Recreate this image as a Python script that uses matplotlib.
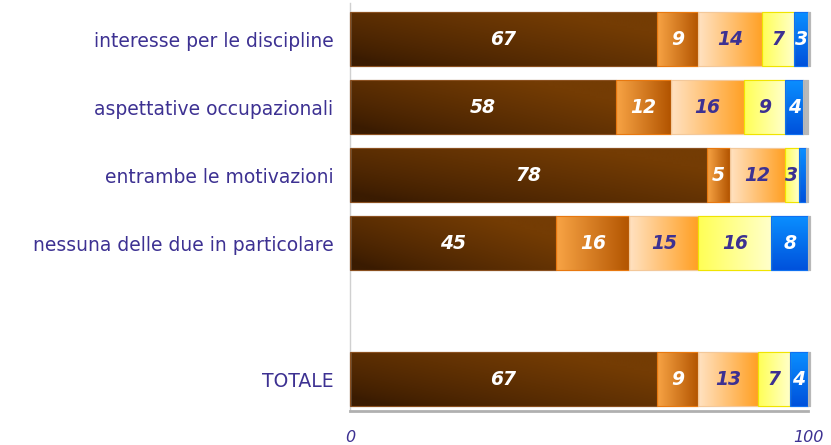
import numpy as np
import matplotlib
matplotlib.use("Agg")
import matplotlib.pyplot as plt
from matplotlib.colors import to_rgb

categories = ["interesse per le discipline", "aspettative occupazionali",
              "entrambe le motivazioni", "nessuna delle due in particolare", "TOTALE"]
positions = [0, 1, 2, 3, 5]
seg1 = [67, 58, 78, 45, 67]
seg2 = [9, 12, 5, 16, 9]
seg3 = [14, 16, 12, 15, 13]
seg4 = [7, 9, 3, 16, 7]
seg5 = [3, 4, 1.5, 8, 4]
seg6 = [0.5, 1.0, 0.5, 0.5, 0.5]
series = [seg1, seg2, seg3, seg4, seg5, seg6]
show_label = [True, True, True, True, True, False]

PURPLE = "#3d3192"
TXT_COLORS = ["white", "white", PURPLE, PURPLE, "white", None]
EDGE = ["#8a5020", "#e8780f", "#f3c89a", "#f0e400", "#1070f0", "#b8b8b8"]

GRADS = [
    ("diag", "#3a1b01", "#743c04"),
    ("h", "#f8a445", "#b25400"),
    ("h", "#ffe2c2", "#ffa024"),
    ("h", "#ffff55", "#ffffcc"),
    ("v", "#0a8eff", "#0052dc"),
    (None, "#b8b8b8", "#b8b8b8"),
]

fig = plt.figure(figsize=(8.31, 4.45), dpi=100)
ax = fig.add_axes([350/831, 1-411/445, 458/831, 408/445])

def gradient_fill(ax, patch, mode, ca, cb):
    bb = patch.get_bbox()
    x0, x1 = bb.x0, bb.x1
    y0, y1 = bb.y0, bb.y1
    n = 128
    a = np.array(to_rgb(ca)); b = np.array(to_rgb(cb))
    xs = np.linspace(0, 1, n)[None, :]
    ys = np.linspace(0, 1, 32)[:, None]
    if mode == "h":
        t = np.repeat(xs, 32, axis=0)
    elif mode == "v":
        t = np.repeat(ys, n, axis=1)
    else:
        t = np.clip(0.75 * xs + 0.6 * (1 - ys) - 0.1, 0, 1)
        t = t ** 0.8
    img = a[None, None, :] * (1 - t[..., None]) + b[None, None, :] * t[..., None]
    im = ax.imshow(img, extent=(x0, x1, max(y0, y1), min(y0, y1)), aspect="auto",
                   zorder=patch.get_zorder() + 0.1, interpolation="bilinear",
                   origin="upper")
    im.set_clip_path(patch)

left = np.zeros(len(categories))
for i, vals in enumerate(series):
    vals = np.array(vals, dtype=float)
    bars = ax.barh(positions, vals, left=left, height=0.79,
                   color=GRADS[i][1], edgecolor=EDGE[i], linewidth=0.8,
                   zorder=2, clip_on=False)
    mode, ca, cb = GRADS[i]
    for p in bars:
        if mode is not None:
            gradient_fill(ax, p, mode, ca, cb)
        p2 = plt.Rectangle(p.get_xy(), p.get_width(), p.get_height(), fill=False,
                           edgecolor=EDGE[i], linewidth=0.8, zorder=3, clip_on=False)
        ax.add_patch(p2)
    if show_label[i]:
        for pos, l, v in zip(positions, left, vals):
            if v >= 3:
                ax.text(l + v / 2, pos, f"{v:g}", ha="center", va="center",
                        color=TXT_COLORS[i], fontsize=13.5, fontweight="bold",
                        fontstyle="italic", zorder=5, family="DejaVu Sans")
    left += vals

ax.set_xlim(0, 100)
ax.set_ylim(5.47, -0.53)
ax.set_yticks(positions)
ax.set_yticklabels(categories, color=PURPLE, fontsize=13.5)
ax.set_xticks([0, 100])
ax.set_xticklabels(["0", "100"], color=PURPLE, fontsize=11.5, fontstyle="italic")
ax.tick_params(axis="both", length=0)
ax.tick_params(axis="y", pad=12)
ax.tick_params(axis="x", pad=14)
for s in ["top", "right"]:
    ax.spines[s].set_visible(False)
ax.spines["left"].set_color("#d0d0d0")
ax.spines["left"].set_linewidth(1.0)
ax.spines["bottom"].set_color("#b0b0b0")
ax.spines["bottom"].set_linewidth(2.0)
ax.set_facecolor("white")

fig.savefig("out.png", dpi=100)
